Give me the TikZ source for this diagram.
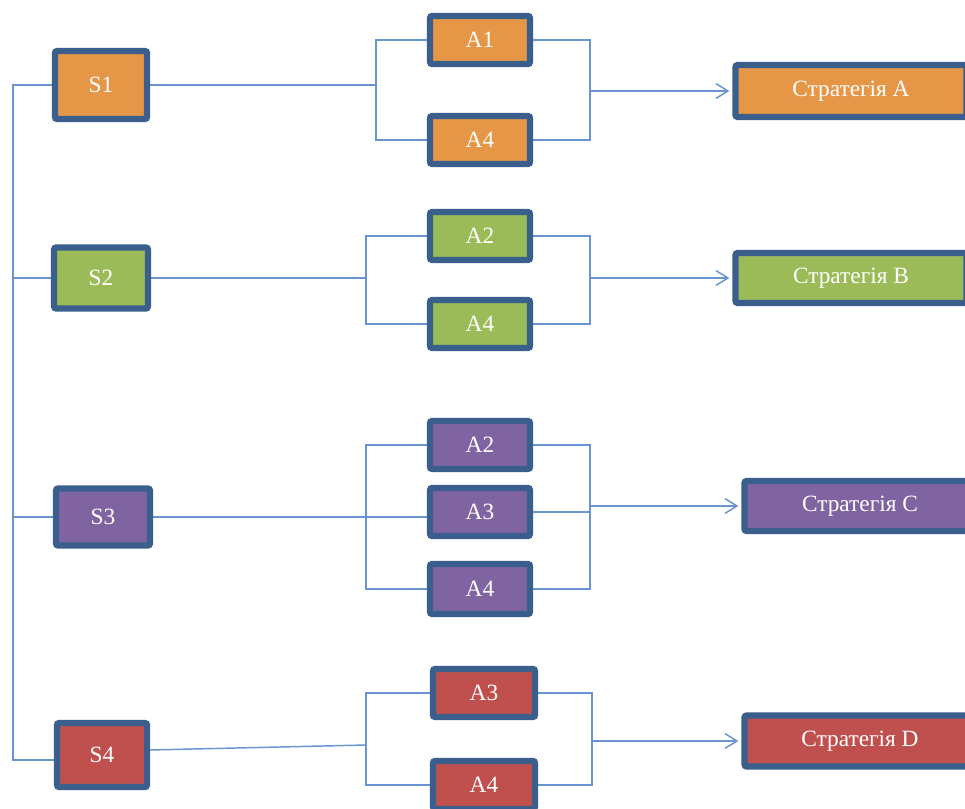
\documentclass[tikz,border=0pt]{standalone}
\usepackage{fontspec}
\setmainfont{Liberation Serif}
\usetikzlibrary{arrows.meta,backgrounds,calc}
\definecolor{bd}{HTML}{3A5F8D}
\definecolor{ln}{HTML}{6894CF}
\definecolor{cor}{HTML}{E59646}
\definecolor{cgr}{HTML}{9BBB59}
\definecolor{cpu}{HTML}{8064A2}
\definecolor{cre}{HTML}{C0504D}
\begin{document}
\begin{tikzpicture}[x=0.75pt,y=-0.75pt,
  box/.style={draw=bd,line width=4.6pt,rounded corners=1.5pt,text=white,
    font=\fontsize{17.5}{19}\selectfont,inner sep=0pt},
  sbox/.style={box,minimum width=92*0.75pt,minimum height=64*0.75pt},
  abox/.style={box,minimum width=100*0.75pt,minimum height=48*0.75pt},
  stbox/.style={box,minimum width=231*0.75pt,minimum height=52*0.75pt},
  conn/.style={draw=ln,line width=1.1pt},
  arr/.style={conn,-{Straight Barb[length=9pt,width=11pt,line width=1.1pt]},shorten >=2.25pt}]
\useasboundingbox (0,0) rectangle (965,809);
\clip (0,0) rectangle (965,809);
% S nodes
\node[sbox,fill=cor,minimum height=68*0.75pt] (S1) at (101,85) {S1};
\node[sbox,fill=cgr,minimum height=61*0.75pt,minimum width=94*0.75pt] (S2) at (101,278) {S2};
\node[sbox,fill=cpu,minimum height=57*0.75pt,minimum width=94*0.75pt] (S3) at (103,517) {S3};
\node[sbox,fill=cre,minimum height=64*0.75pt,minimum width=90*0.75pt] (S4) at (102,755) {S4};
% A nodes
\node[abox,fill=cor] (A1r1) at (480,40) {A1};
\node[abox,fill=cor] (A4r1) at (480,140) {A4};
\node[abox,fill=cgr] (A2r2) at (480,236) {A2};
\node[abox,fill=cgr] (A4r2) at (480,324) {A4};
\node[abox,fill=cpu] (A2r3) at (480,445) {A2};
\node[abox,fill=cpu] (A3r3) at (480,512) {A3};
\node[abox,fill=cpu,minimum height=50*0.75pt] (A4r3) at (480,589) {A4};
\node[abox,fill=cre,minimum width=102*0.75pt] (A3r4) at (484,693) {A3};
\node[abox,fill=cre,minimum width=102*0.75pt] (A4r4) at (484,785) {A4};
% strategies
\node[stbox,fill=cor] (SA) at (851,91) {Стратегія A};
\node[stbox,fill=cgr,minimum height=50*0.75pt] (SB) at (851,278) {Стратегія B};
\node[stbox,fill=cpu,minimum height=50*0.75pt] (SC) at (860,506) {Стратегія C};
\node[stbox,fill=cre,minimum height=51*0.75pt] (SD) at (860,741) {Стратегія D};
\begin{scope}[on background layer]
  \coordinate (spine) at (13,0);
  \draw[conn] (S1.west) -- (S1.west -| spine) -- ($(S4.west -| spine)+(0,5)$) -- ($(S4.west)+(0,5)$);
  \draw[conn] (S2.west) -- (S2.west -| spine);
  \draw[conn] (S3.west) -- (S3.west -| spine);
  % row 1
  \coordinate (b1) at (376,85);
  \coordinate (m1) at (590,91);
  \draw[conn] (S1.east) -- (b1);
  \draw[conn] (A1r1.west) -| (b1) |- (A4r1.west);
  \draw[conn] (A1r1.east) -| (m1) |- (A4r1.east);
  \draw[arr] (m1) -- (SA.west);
  % row 2
  \coordinate (b2) at (366,278);
  \coordinate (m2) at (590,278);
  \draw[conn] (S2.east) -- (b2);
  \draw[conn] (A2r2.west) -| (b2) |- (A4r2.west);
  \draw[conn] (A2r2.east) -| (m2) |- (A4r2.east);
  \draw[arr] (m2) -- (SB.west);
  % row 3
  \coordinate (b3) at (366,517);
  \coordinate (m3) at (590,506);
  \draw[conn] (S3.east) -- (A3r3.west |- S3.east);
  \draw[conn] (A2r3.west) -| (b3) |- (A4r3.west);
  \draw[conn] (A2r3.east) -| (m3) |- (A4r3.east);
  \draw[conn] (A3r3.east) -- (A3r3.east -| m3);
  \draw[arr] (m3) -- (SC.west);
  % row 4
  \coordinate (b4) at (366,745);
  \coordinate (m4) at (592,741);
  \draw[conn] ($(S4.east)+(0,-5)$) -- (b4);
  \draw[conn] (A3r4.west) -| (b4) |- (A4r4.west);
  \draw[conn] (A3r4.east) -| (m4) |- (A4r4.east);
  \draw[arr] (m4) -- (SD.west);
\end{scope}
\end{tikzpicture}
\end{document}
